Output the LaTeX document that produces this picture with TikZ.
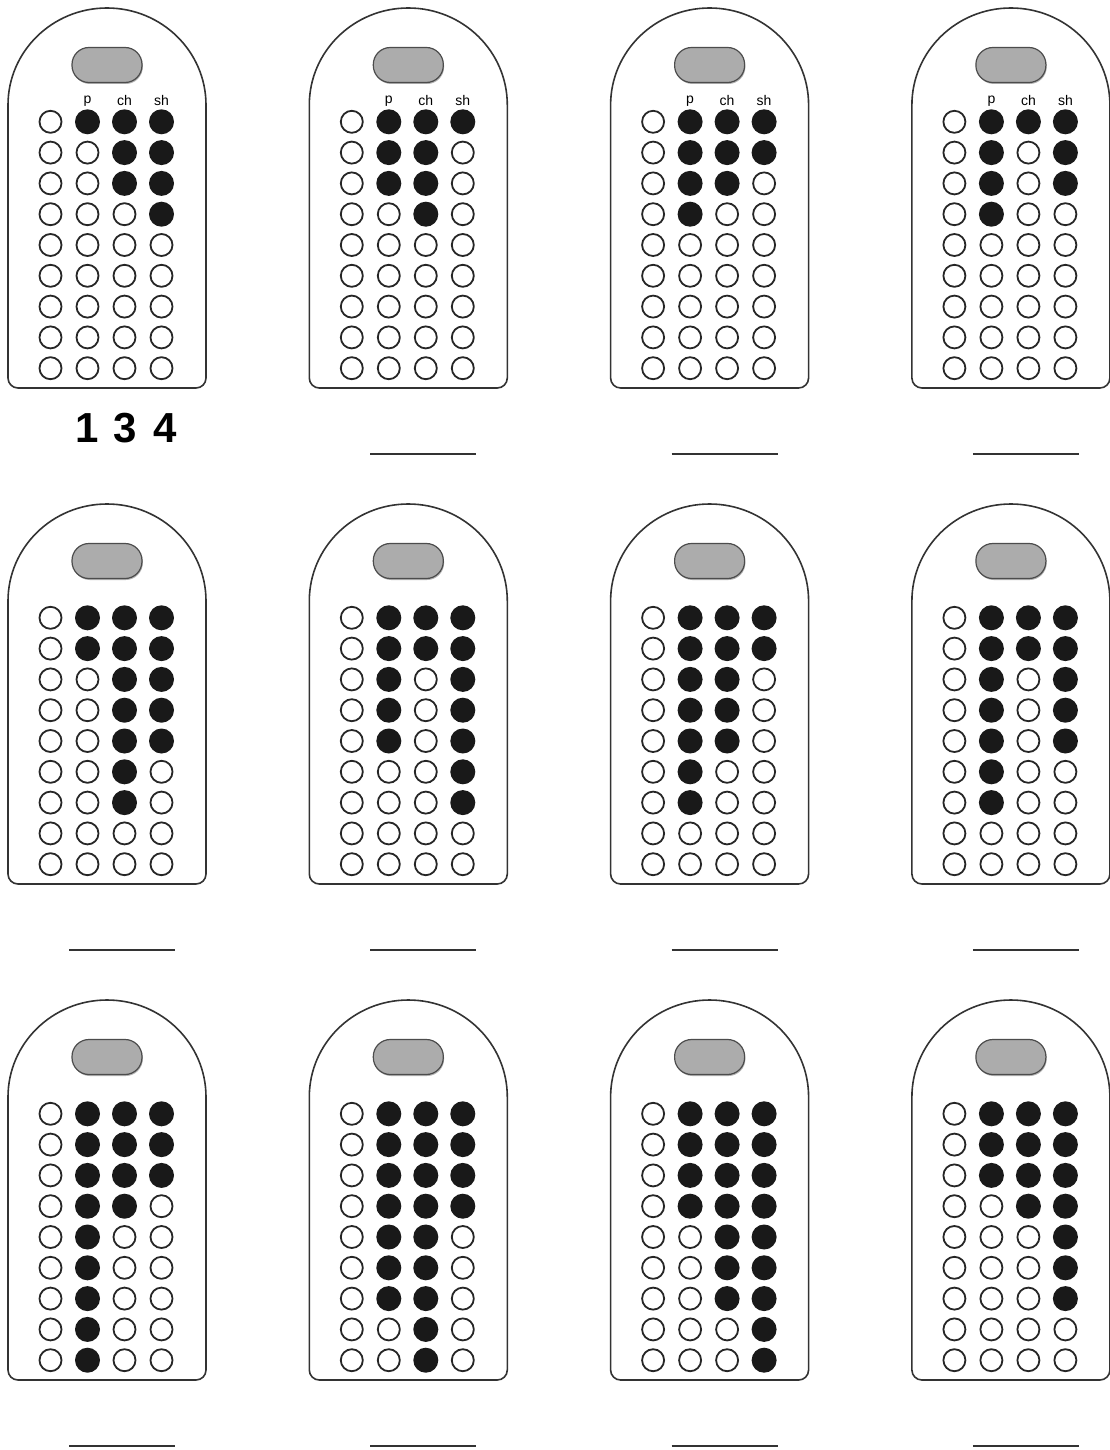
\documentclass[tikz,border=0pt]{standalone}
\usepackage{fontspec}
\setmainfont{Liberation Sans}
\usetikzlibrary{shadows}
\tikzset{
  card/.style={draw=black!80, line width=1.6pt, fill=white},
  tab/.style={draw=gray!60!black, fill=gray!65, line width=1.2pt, rounded corners=17pt,
    minimum width=70pt, minimum height=35pt, inner sep=0pt,
    drop shadow={shadow xshift=0.8pt, shadow yshift=-1.5pt, fill=black!50, opacity=0.6}},
  hole/.style={draw=black!85, line width=1.8pt},
  peg/.style={fill=black!90},
  sound/.style={font=\fontsize{14}{14}\selectfont, inner sep=0pt},
  score/.style={font=\fontsize{42}{42}\selectfont\bfseries, inner sep=0pt},
  blank/.style={draw=black!80, line width=2pt}
}
\begin{document}
\begin{tikzpicture}[x=1pt,y=-1pt]
\useasboundingbox (0,0) rectangle (1110,1450);
\foreach \cx/\cy/\na/\nb/\nc in {0/0/1/3/4, 1/0/3/4/1, 2/0/4/3/2, 3/0/4/1/3,
    0/1/2/7/5, 1/1/5/2/7, 2/1/7/5/2, 3/1/7/2/5,
    0/2/9/4/3, 1/2/7/9/4, 2/2/4/7/9, 3/2/3/4/7}{
  \begin{scope}[shift={(8+301.3*\cx,8+496*\cy)}]
    \draw[card] (0,97) -- (0,370) arc[start angle=180,end angle=90,radius=10]
      -- (188,380) arc[start angle=90,end angle=0,radius=10]
      -- (198,97) arc[start angle=0,end angle=-180,x radius=99,y radius=97] -- cycle;
    \node[tab] (tab-\cx-\cy) at (99,57) {};
    \foreach \j in {1,...,9}
      \draw[hole] (42.5,83+30.8*\j) circle[radius=11];
    \foreach \i/\n in {1/\na,2/\nb,3/\nc}{
      \foreach \j in {1,...,9}{
        \ifnum\j>\n
          \draw[hole] (42.5+37*\i,83+30.8*\j) circle[radius=11];
        \else
          \fill[peg] (42.5+37*\i,83+30.8*\j) circle[radius=12.5];
        \fi
      }
    }
    \ifnum\cy=0
      \node[sound] (p-\cx) at (79.5,93) {p};
      \node[sound] (ch-\cx) at (116.5,92) {ch};
      \node[sound] (sh-\cx) at (153.5,92) {sh};
    \fi
    \ifnum\numexpr\cx+\cy\relax=0
      \node[score] (first) at (79.5,420) {\na};
      \node[score] (second) at (117,420) {\nb};
      \node[score] (third) at (157,420) {\nc};
    \else
      \draw[blank] (61,446) -- (167,446);
    \fi
  \end{scope}
}
\end{tikzpicture}
\end{document}
